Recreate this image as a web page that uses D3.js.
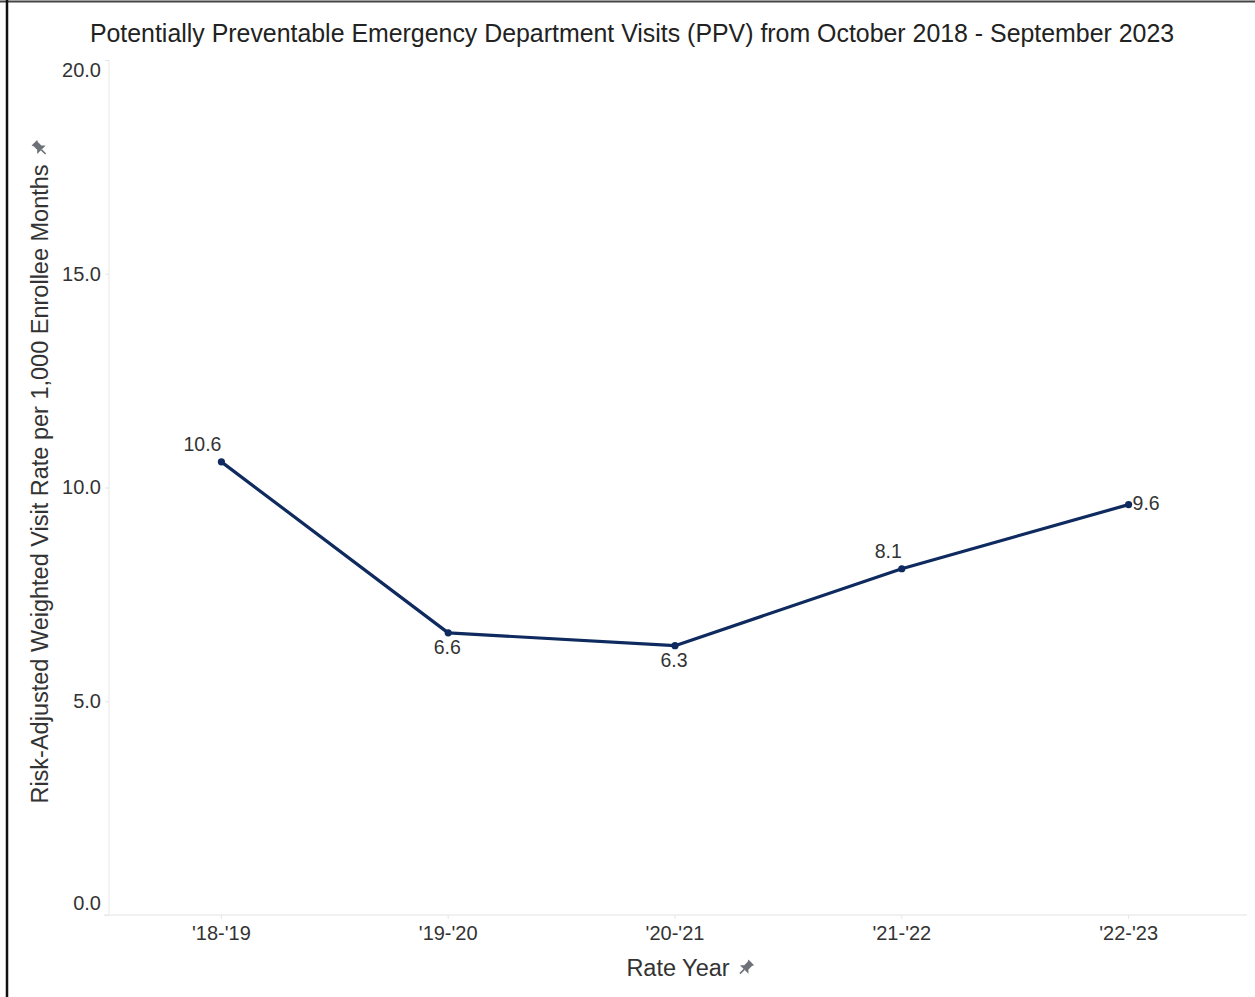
<!DOCTYPE html>
<html><head><meta charset="utf-8">
<script src="https://cdn.jsdelivr.net/npm/d3@7/dist/d3.min.js"></script>
<style>
html,body{margin:0;padding:0;background:#fff;}
svg{display:block;font-family:"Liberation Sans",Arial,sans-serif;}
</style></head>
<body>
<script>
const categories = ["'18-'19", "'19-'20", "'20-'21", "'21-'22", "'22-'23"];
const values = [10.6, 6.6, 6.3, 8.1, 9.6];
const yTicks = [0, 5, 10, 15, 20];
const labelPlacement = ["aboveLeft", "below", "below", "aboveLeft", "right"];
const titleText = "Potentially Preventable Emergency Department Visits (PPV) from October 2018 - September 2023";
const yTitle = "Risk-Adjusted Weighted Visit Rate per 1,000 Enrollee Months";
const xTitle = "Rate Year";

const W = 1255, H = 997;
const svg = d3.select("body").append("svg").attr("width", W).attr("height", H);

// frame
svg.append("line").attr("x1",0).attr("x2",W).attr("y1",1.5).attr("y2",1.5).attr("stroke","#444").attr("stroke-width",2);
svg.append("line").attr("x1",7).attr("x2",7).attr("y1",0).attr("y2",H).attr("stroke","#111").attr("stroke-width",2.5);

const plotL = 108, plotR = 1242, plotT = 60, plotB = 915;
const x = d3.scaleBand().domain(categories).range([plotL, plotR]).padding(0);
const cx = d => x(d) + x.bandwidth()/2;
const y = d3.scaleLinear().domain([0, 20]).range([plotB, plotT]);

// title
svg.append("text").attr("x", 632).attr("y", 42).attr("text-anchor","middle")
  .attr("font-size", 24.9).attr("fill","#222").text(titleText);

// left gridline and baseline
svg.append("line").attr("x1",plotL+1).attr("x2",plotL+1).attr("y1",plotT).attr("y2",plotB)
  .attr("stroke","#efefef").attr("stroke-width",1.5);
svg.append("line").attr("x1",104).attr("x2",1247).attr("y1",plotB).attr("y2",plotB)
  .attr("stroke","#ececec").attr("stroke-width",1.5);

// y axis
const yAxis = d3.axisLeft(y).tickValues(yTicks).tickFormat(d3.format(".1f")).tickSize(4).tickPadding(4);
const yg = svg.append("g").attr("transform", `translate(${plotL+1},0)`).call(yAxis);
yg.select(".domain").remove();
yg.selectAll(".tick line").attr("stroke","#e6e6e6");
yg.selectAll(".tick text").attr("font-size",20).attr("fill","#333")
  .attr("font-family","Liberation Sans, Arial, sans-serif")
  .attr("dy", d => d === 20 ? "0.8em" : d === 0 ? "-0.3em" : "0.32em");

// x axis
const xAxis = d3.axisBottom(x).tickSize(4).tickPadding(7);
const xg = svg.append("g").attr("transform", `translate(0,${plotB})`).call(xAxis);
xg.select(".domain").remove();
xg.selectAll(".tick line").attr("stroke","#e6e6e6");
xg.selectAll(".tick text").attr("font-size",20).attr("fill","#333")
  .attr("font-family","Liberation Sans, Arial, sans-serif");

// pin icon
function pin(g, tx, ty, rot){
  const p = g.append("g").attr("transform", `translate(${tx},${ty}) rotate(${rot})`);
  p.append("path").attr("d","M-4,-8 L4,-8 L3,-6 L3,-1 L6,2 L-6,2 L-3,-1 L-3,-6 Z").attr("fill","#6e7278");
  p.append("line").attr("x1",0).attr("x2",0).attr("y1",2).attr("y2",8).attr("stroke","#6e7278").attr("stroke-width",1.6);
}

// axis titles
const xt = svg.append("text").attr("x", 678).attr("y", 976).attr("text-anchor","middle")
  .attr("font-size", 23.5).attr("fill","#333").text(xTitle);
const xtw = xt.node().getComputedTextLength();
pin(svg, 678 + xtw/2 + 16, 968, 45);

const ytG = svg.append("g").attr("transform", "translate(48,484) rotate(-90)");
const yt = ytG.append("text").attr("x",0).attr("y",0).attr("text-anchor","middle")
  .attr("font-size", 23.5).attr("fill","#333").text(yTitle);
const ytw = yt.node().getComputedTextLength();
pin(ytG, ytw/2 + 16, -8, 45);

// line
const line = d3.line().x((d,i) => cx(categories[i])).y(d => y(d));
svg.append("path").datum(values).attr("d", line).attr("fill","none")
  .attr("stroke","#0e2a5f").attr("stroke-width",3.2).attr("stroke-linejoin","round");
svg.selectAll("circle.pt").data(values).enter().append("circle").attr("class","pt")
  .attr("cx",(d,i)=>cx(categories[i])).attr("cy",d=>y(d)).attr("r",3.6).attr("fill","#0e2a5f");

// labels
svg.selectAll("text.lbl").data(values).enter().append("text").attr("class","lbl")
  .attr("font-size",19.5).attr("fill","#333")
  .attr("x",(d,i)=>{const p=labelPlacement[i], X=cx(categories[i]);
     return p==="aboveLeft"? X : p==="right" ? X+4 : X-1;})
  .attr("y",(d,i)=>{const p=labelPlacement[i], Y=y(d);
     return p==="aboveLeft"? Y-11 : p==="right" ? Y+5 : Y+21;})
  .attr("text-anchor",(d,i)=>{const p=labelPlacement[i];
     return p==="aboveLeft"?"end":p==="right"?"start":"middle";})
  .text(d=>d3.format(".1f")(d));
</script>
</body></html>
